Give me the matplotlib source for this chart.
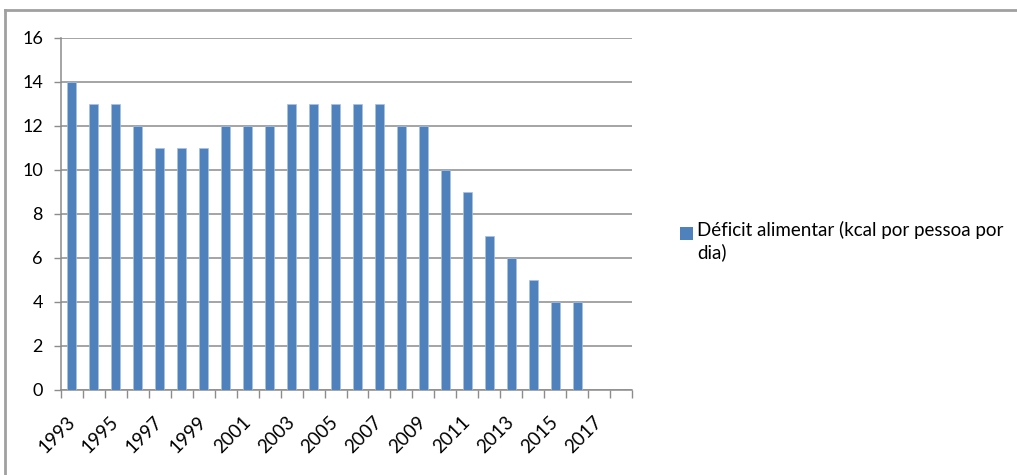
import matplotlib
matplotlib.use("Agg")
import matplotlib.pyplot as plt
from matplotlib.lines import Line2D
from matplotlib.patches import Rectangle
import numpy as np

plt.rcParams['font.family'] = ['Lato', 'DejaVu Sans']

years = [str(y) for y in range(1993, 2019)]
values = [14, 13, 13, 12, 11, 11, 11, 12, 12, 12, 13, 13, 13, 13, 13, 12, 12, 10, 9, 7, 6, 5, 4, 4, None, None]
series_name = "Déficit alimentar (kcal por pessoa por\ndia)"
bar_color = "#4F81BD"
grid_color = "#8C8C8C"

W, H = 1017, 475
fig = plt.figure(figsize=(W / 100, H / 100), dpi=100)
ax = fig.add_axes([61 / W, 1 - 390 / H, (632 - 61) / W, (390 - 38) / H])

x = np.arange(len(years))
vals = [v if v is not None else 0 for v in values]
ax.bar(x, vals, width=0.41, color=bar_color, edgecolor="#A9C1E0", linewidth=0.5, zorder=3)

ax.set_xlim(-0.5, len(years) - 0.5)
ax.set_ylim(0, 16)
ax.set_yticks(range(0, 17, 2))
ax.yaxis.grid(True, color=grid_color, linewidth=1.1, zorder=0)
ax.set_axisbelow(True)

ax.set_xticks(x[::2])
ax.set_xticklabels(years[::2], rotation=45, ha='right', va='center', rotation_mode='anchor')
ax.set_xticks(np.arange(-0.5, len(years), 1), minor=True)
ax.tick_params(axis='x', which='major', length=0, pad=21, labelsize=13.5)
ax.tick_params(axis='x', which='minor', length=6, width=1, color=grid_color)
ax.tick_params(axis='y', length=5, width=1, color=grid_color, labelsize=13, pad=8)

for s in ['top', 'right']:
    ax.spines[s].set_visible(False)
for s in ['left', 'bottom']:
    ax.spines[s].set_color(grid_color)
    ax.spines[s].set_linewidth(1.1)

# legend
fig.patches.append(Rectangle((680 / W, 1 - 240 / H), 13 / W, 13 / H, transform=fig.transFigure,
                             facecolor=bar_color, edgecolor='none'))
fig.text(697 / W, 1 - 221 / H, series_name, fontsize=13.5, va='top', ha='left', linespacing=1.3)

# outer chart border
fig.add_artist(Line2D([5 / W, 1.0], [1 - 10 / H, 1 - 10 / H], color="#A0A0A0", linewidth=2, transform=fig.transFigure))
fig.add_artist(Line2D([5 / W, 5 / W], [0, 1 - 10 / H], color="#A0A0A0", linewidth=2, transform=fig.transFigure))

fig.savefig("out.png", dpi=100)
